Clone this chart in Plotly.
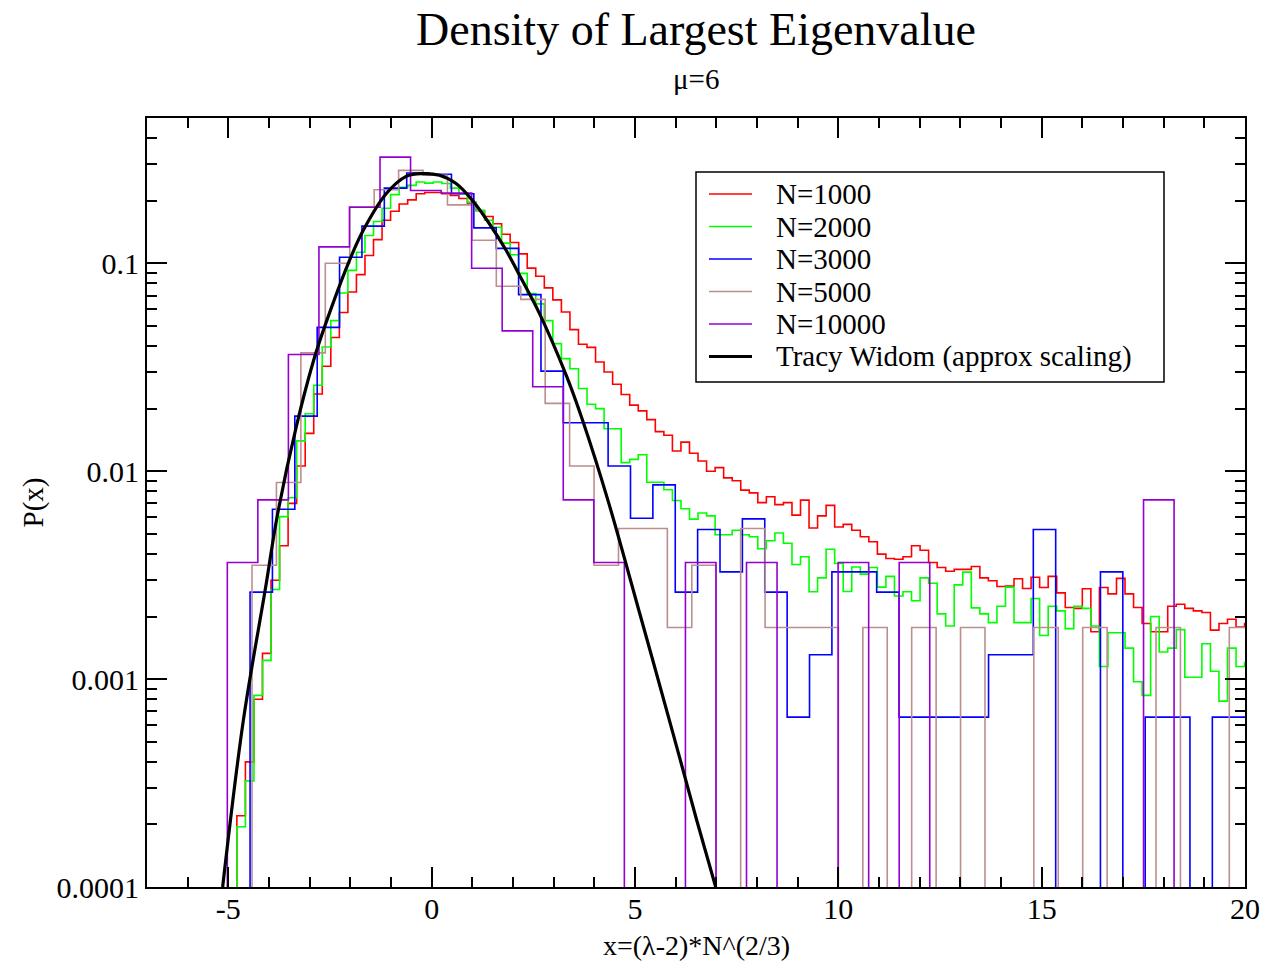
import numpy as np
import plotly.graph_objects as go

# ---------------- data ----------------
series_names = ["N=1000", "N=2000", "N=3000", "N=5000", "N=10000",
                "Tracy Widom (approx scaling)"]

# N=1000 histogram: first bin edge, bin width, densities per bin
red_start, red_width = -4.79, 0.21
red_vals = [0.00022, 0.00040, 0.00080, 0.00133, 0.00299, 0.00438, 0.0070, 0.0106, 0.0152, 0.0235,
            0.0320, 0.0440, 0.0580, 0.0728, 0.0882, 0.109, 0.130, 0.161, 0.178, 0.193,
            0.202, 0.216, 0.219, 0.219, 0.216, 0.212, 0.205, 0.193, 0.179, 0.168,
            0.155, 0.138, 0.126, 0.111, 0.0948, 0.0866, 0.0762, 0.0667, 0.0583, 0.0480,
            0.0408, 0.0394, 0.0335, 0.0300, 0.0262, 0.0234, 0.0208, 0.0195, 0.0177, 0.0155,
            0.0149, 0.0125, 0.0138, 0.0122, 0.0112, 0.0100, 0.0104, 0.00929, 0.00899, 0.00811,
            0.00787, 0.00706, 0.00753, 0.00691, 0.00706, 0.00615, 0.00726, 0.00533, 0.00610, 0.00685,
            0.00539, 0.00555, 0.00520, 0.00484, 0.00458, 0.00399, 0.00380, 0.00377, 0.00388, 0.00438,
            0.00417, 0.00364, 0.00344, 0.00330, 0.00337, 0.00337, 0.00348, 0.00307, 0.00297, 0.00279,
            0.00280, 0.00304, 0.00273, 0.00309, 0.00276, 0.00312, 0.00260, 0.00221, 0.00219, 0.00272,
            0.00169, 0.00276, 0.00257, 0.00305, 0.00257, 0.00221, 0.00185, 0.00169, 0.00169, 0.00224,
            0.00229, 0.00219, 0.00213, 0.00209, 0.00172, 0.00185, 0.00194, 0.00178, 0.00185]

# N=2000 histogram
green_start, green_width = -4.79, 0.21
green_vals = [0.000195, 0.000324, 0.000835, 0.00123, 0.00270, 0.00605, 0.00745, 0.0140, 0.0189, 0.0259,
              0.0396, 0.0530, 0.0720, 0.0925, 0.113, 0.136, 0.159, 0.184, 0.214, 0.232,
              0.237, 0.246, 0.243, 0.246, 0.242, 0.230, 0.216, 0.197, 0.180, 0.161,
              0.149, 0.125, 0.110, 0.0895, 0.0715, 0.0638, 0.0530, 0.0411, 0.0348, 0.0311,
              0.0250, 0.0210, 0.0200, 0.0160, 0.0160, 0.0110, 0.0114, 0.0120, 0.00885, 0.00885,
              0.00815, 0.00723, 0.00660, 0.00588, 0.00629, 0.00610, 0.00495, 0.00495, 0.00520, 0.00495,
              0.00484, 0.00424, 0.00463, 0.00504, 0.00450, 0.00356, 0.00388, 0.00263, 0.00307, 0.00421,
              0.00360, 0.00264, 0.00346, 0.00320, 0.00344, 0.00277, 0.00312, 0.00251, 0.00263, 0.00238,
              0.00307, 0.00289, 0.00206, 0.00180, 0.00284, 0.00327, 0.00220, 0.00206, 0.00187, 0.00224,
              0.00277, 0.00187, 0.00187, 0.00244, 0.00162, 0.00224, 0.00213, 0.00175, 0.00224, 0.00219,
              0.00180, 0.00115, 0.00167, 0.00167, 0.00141, 0.000971, 0.000835, 0.00200, 0.00135, 0.00141,
              0.00173, 0.00102, 0.00102, 0.00148, 0.00109, 0.000784, 0.00141, 0.00115, 0.00120]

# N=3000 histogram
blue_start, blue_width = -4.466, 0.5503
blue_vals = [0.00262, 0.00656, 0.0184, 0.0492, 0.107, 0.151, 0.230, 0.272, 0.268, 0.216,
             0.148, 0.118, 0.0707, 0.0303, 0.0171, 0.0171, 0.0106, 0.00594, 0.00860, 0.00262,
             0.00524, 0.00328, 0.00590, 0.00262, 0.000656, 0.00131, 0.00328, 0.00328, 0.00262, 0.000656,
             0.000656, 0.000656, 0.000656, 0.00131, 0.00131, 0.00524, 0.0, 0.0, 0.00328, 0.0,
             0.000656, 0.000656, 0.0, 0.000656, 0.000656]

# N=5000 histogram
brown_start, brown_width = -4.418, 0.6008
brown_vals = [0.00353, 0.00883, 0.0371, 0.100, 0.187, 0.226, 0.280, 0.265, 0.191, 0.129,
              0.0776, 0.0671, 0.0212, 0.0106, 0.00353, 0.00530, 0.00530, 0.00177, 0.00353, 0.0,
              0.00530, 0.00177, 0.00177, 0.00177, 0.0, 0.00177, 0.0, 0.00177, 0.0, 0.00177,
              0.0, 0.0, 0.00177, 0.0, 0.00177, 0.0, 0.0, 0.00177, 0.0, 0.0,
              0.00177]

# N=10000 histogram
purple_start, purple_width = -5.025, 0.751
purple_vals = [0.00364, 0.00728, 0.0364, 0.120, 0.186, 0.324, 0.224, 0.218, 0.0946, 0.0473,
               0.0255, 0.00728, 0.00364, 0.0, 0.0, 0.00364, 0.0, 0.00364, 0.0, 0.0,
               0.00364, 0.0, 0.00364, 0.0, 0.0, 0.0, 0.0, 0.0, 0.0, 0.0,
               0.00728, 0.0, 0.0, 0.0]

# Tracy-Widom curve, points
tw_x = [-5.14, -4.63, -4.082, -3.794, -3.327, -2.852, -2.399, -2.05, -1.695, -1.12, -0.627,
        -0.219, 0.19, 0.60, 1.01, 1.42, 1.83, 2.24, 2.652, 3.310, 3.711,
        4.333, 5.113, 5.933, 6.516, 6.984]
tw_y = [0.0001, 0.000635, 0.00277, 0.00614, 0.01644, 0.0368, 0.0664, 0.100, 0.1425, 0.216, 0.262,
        0.270, 0.265, 0.242, 0.200, 0.155, 0.1155, 0.0819, 0.0573, 0.0289, 0.01758,
        0.00726, 0.00208, 0.000550, 0.000210, 0.0001]

# ---------------- style ----------------
colors = ["#ff0000", "#00ff00", "#0000ff", "#bc8f8f", "#9400d3", "#000000"]
FONT = "Liberation Serif"
FLOOR = 1e-8  # empty bins drop below the axis

W, H = 1263, 961
L, R, T, B = 147, 18, 118, 74
PW, PH = W - L - R, H - T - B


def step_xy(start, width, vals):
    n = len(vals)
    edges = start + width * np.arange(n + 1)
    ys = [v if v > 0 else FLOOR for v in vals]
    xs = [edges[0]] + list(edges[:-1]) + [edges[-1], edges[-1]]
    yy = [FLOOR] + ys + [ys[-1], FLOOR]
    return xs, yy


fig = go.Figure()
hists = [(red_start, red_width, red_vals), (green_start, green_width, green_vals),
         (blue_start, blue_width, blue_vals), (brown_start, brown_width, brown_vals),
         (purple_start, purple_width, purple_vals)]
for (s, w, v), name, c in zip(hists, series_names, colors):
    xs, ys = step_xy(s, w, v)
    fig.add_trace(go.Scatter(x=xs, y=ys, mode="lines", name=name,
                             line=dict(color=c, width=1.6, shape="hv"),
                             showlegend=False, hoverinfo="skip"))

fig.add_trace(go.Scatter(x=tw_x, y=tw_y, mode="lines", name=series_names[5],
                         line=dict(color="black", width=3.2, shape="spline", smoothing=1.0),
                         showlegend=False, hoverinfo="skip"))

# ---------------- legend (drawn by hand to match the box) ----------------
def px2x(px):
    return (px - L) / PW


def py2y(py):
    return (H - B - py) / PH


shapes = [dict(type="rect", xref="paper", yref="paper",
               x0=px2x(696), x1=px2x(1164), y0=py2y(382), y1=py2y(172),
               line=dict(color="black", width=1.5), fillcolor="white", layer="above")]
annotations = []
for i, (name, c) in enumerate(zip(series_names, colors)):
    yy = 194 + 32.5 * i
    shapes.append(dict(type="line", xref="paper", yref="paper",
                       x0=px2x(709), x1=px2x(752), y0=py2y(yy), y1=py2y(yy),
                       line=dict(color=c, width=3 if i == 5 else 1.6), layer="above"))
    annotations.append(dict(xref="paper", yref="paper", x=px2x(774), y=py2y(yy),
                            xanchor="left", yanchor="middle", text=name, showarrow=False,
                            font=dict(family=FONT, size=29, color="black")))

annotations.append(dict(xref="paper", yref="paper", x=0.5, y=py2y(79),
                        xanchor="center", yanchor="middle", text="\u03bc=6", showarrow=False,
                        font=dict(family=FONT, size=29, color="black")))
# axis titles
annotations.append(dict(xref="paper", yref="paper", x=0.5, y=py2y(945),
                        xanchor="center", yanchor="middle", text="x=(\u03bb-2)*N^(2/3)",
                        showarrow=False, font=dict(family=FONT, size=28, color="black")))
annotations.append(dict(xref="paper", yref="paper", x=px2x(33), y=0.5,
                        xanchor="center", yanchor="middle", text="P(x)", textangle=-90,
                        showarrow=False, font=dict(family=FONT, size=29, color="black")))

y_major = [1e-4, 1e-3, 1e-2, 1e-1]
y_major_text = ["0.0001", "0.001", "0.01", "0.1"]
y_minor = [m * 10.0 ** e for e in range(-4, 0) for m in range(2, 10) if m * 10.0 ** e <= 0.5]
x_major = [-5, 0, 5, 10, 15, 20]
x_major_text = ["-5", "0", "5", "10", "15", "20"]

fig.update_layout(
    width=W, height=H,
    margin=dict(l=L, r=R, t=T, b=B, autoexpand=False),
    paper_bgcolor="white", plot_bgcolor="white",
    title=dict(text="Density of Largest Eigenvalue", x=(L + PW / 2) / W, xanchor="center",
               y=1 - 29 / H, yanchor="middle", font=dict(family=FONT, size=46, color="black")),
    font=dict(family=FONT, size=30, color="black"),
    shapes=shapes, annotations=annotations,
    showlegend=False,
    xaxis=dict(range=[-7, 20], tickmode="array", tickvals=x_major, ticktext=x_major_text,
               ticks="inside", ticklen=20, tickwidth=2, tickcolor="black",
               showline=True, linecolor="black", linewidth=2, mirror="allticks",
               showgrid=False, zeroline=False, automargin=False, ticklabelstandoff=-6,
               minor=dict(ticks="inside", dtick=1, tick0=0, ticklen=10, tickwidth=1.5,
                          tickcolor="black", showgrid=False),
               tickfont=dict(family=FONT, size=30, color="black")),
    yaxis=dict(type="log", range=[-4, np.log10(0.5)], tickmode="array",
               tickvals=y_major, ticktext=y_major_text,
               ticks="inside", ticklen=20, tickwidth=2, tickcolor="black",
               showline=True, linecolor="black", linewidth=2, mirror="allticks",
               showgrid=False, zeroline=False, automargin=False,
               minor=dict(ticks="inside", tickvals=y_minor, ticklen=10, tickwidth=1.5,
                          tickcolor="black", showgrid=False),
               tickfont=dict(family=FONT, size=30, color="black")),
)

fig.write_html("out.html", config={"displayModeBar": False})
